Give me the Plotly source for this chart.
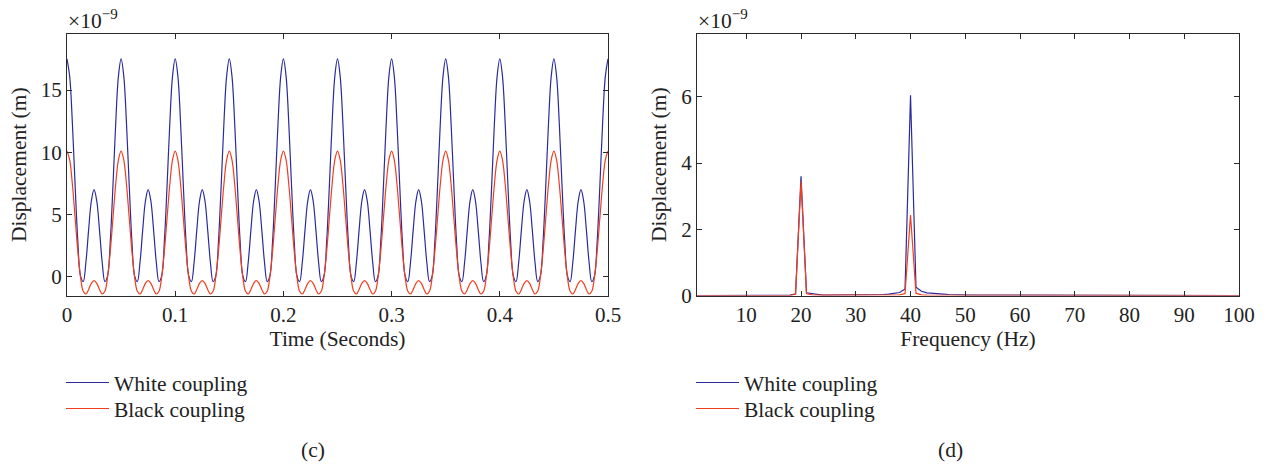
import numpy as np
import plotly.graph_objects as go

# ---- panel (c): time response, values in units of 1e-9 m ----
time_s = np.linspace(0.0, 0.5, 201)

white_disp_time = [
    17.50, 16.08, 12.29, 7.36, 2.86, 0.07, -0.39, 1.19, 3.79, 6.09, 7.00, 6.09, 3.79, 1.19, -0.39, 0.07, 2.86, 7.36, 12.29, 16.08,
    17.50, 16.08, 12.29, 7.36, 2.86, 0.07, -0.39, 1.19, 3.79, 6.09, 7.00, 6.09, 3.79, 1.19, -0.39, 0.07, 2.86, 7.36, 12.29, 16.08,
    17.50, 16.08, 12.29, 7.36, 2.86, 0.07, -0.39, 1.19, 3.79, 6.09, 7.00, 6.09, 3.79, 1.19, -0.39, 0.07, 2.86, 7.36, 12.29, 16.08,
    17.50, 16.08, 12.29, 7.36, 2.86, 0.07, -0.39, 1.19, 3.79, 6.09, 7.00, 6.09, 3.79, 1.19, -0.39, 0.07, 2.86, 7.36, 12.29, 16.08,
    17.50, 16.08, 12.29, 7.36, 2.86, 0.07, -0.39, 1.19, 3.79, 6.09, 7.00, 6.09, 3.79, 1.19, -0.39, 0.07, 2.86, 7.36, 12.29, 16.08,
    17.50, 16.08, 12.29, 7.36, 2.86, 0.07, -0.39, 1.19, 3.79, 6.09, 7.00, 6.09, 3.79, 1.19, -0.39, 0.07, 2.86, 7.36, 12.29, 16.08,
    17.50, 16.08, 12.29, 7.36, 2.86, 0.07, -0.39, 1.19, 3.79, 6.09, 7.00, 6.09, 3.79, 1.19, -0.39, 0.07, 2.86, 7.36, 12.29, 16.08,
    17.50, 16.08, 12.29, 7.36, 2.86, 0.07, -0.39, 1.19, 3.79, 6.09, 7.00, 6.09, 3.79, 1.19, -0.39, 0.07, 2.86, 7.36, 12.29, 16.08,
    17.50, 16.08, 12.29, 7.36, 2.86, 0.07, -0.39, 1.19, 3.79, 6.09, 7.00, 6.09, 3.79, 1.19, -0.39, 0.07, 2.86, 7.36, 12.29, 16.08,
    17.50, 16.08, 12.29, 7.36, 2.86, 0.07, -0.39, 1.19, 3.79, 6.09, 7.00, 6.09, 3.79, 1.19, -0.39, 0.07, 2.86, 7.36, 12.29, 16.08,
    17.50,
]

black_disp_time = [
    10.10, 9.38, 7.41, 4.74, 2.06, -0.02, -1.16, -1.38, -1.01, -0.52, -0.30, -0.52, -1.01, -1.38, -1.16, -0.02, 2.06, 4.74, 7.41, 9.38,
    10.10, 9.38, 7.41, 4.74, 2.06, -0.02, -1.16, -1.38, -1.01, -0.52, -0.30, -0.52, -1.01, -1.38, -1.16, -0.02, 2.06, 4.74, 7.41, 9.38,
    10.10, 9.38, 7.41, 4.74, 2.06, -0.02, -1.16, -1.38, -1.01, -0.52, -0.30, -0.52, -1.01, -1.38, -1.16, -0.02, 2.06, 4.74, 7.41, 9.38,
    10.10, 9.38, 7.41, 4.74, 2.06, -0.02, -1.16, -1.38, -1.01, -0.52, -0.30, -0.52, -1.01, -1.38, -1.16, -0.02, 2.06, 4.74, 7.41, 9.38,
    10.10, 9.38, 7.41, 4.74, 2.06, -0.02, -1.16, -1.38, -1.01, -0.52, -0.30, -0.52, -1.01, -1.38, -1.16, -0.02, 2.06, 4.74, 7.41, 9.38,
    10.10, 9.38, 7.41, 4.74, 2.06, -0.02, -1.16, -1.38, -1.01, -0.52, -0.30, -0.52, -1.01, -1.38, -1.16, -0.02, 2.06, 4.74, 7.41, 9.38,
    10.10, 9.38, 7.41, 4.74, 2.06, -0.02, -1.16, -1.38, -1.01, -0.52, -0.30, -0.52, -1.01, -1.38, -1.16, -0.02, 2.06, 4.74, 7.41, 9.38,
    10.10, 9.38, 7.41, 4.74, 2.06, -0.02, -1.16, -1.38, -1.01, -0.52, -0.30, -0.52, -1.01, -1.38, -1.16, -0.02, 2.06, 4.74, 7.41, 9.38,
    10.10, 9.38, 7.41, 4.74, 2.06, -0.02, -1.16, -1.38, -1.01, -0.52, -0.30, -0.52, -1.01, -1.38, -1.16, -0.02, 2.06, 4.74, 7.41, 9.38,
    10.10, 9.38, 7.41, 4.74, 2.06, -0.02, -1.16, -1.38, -1.01, -0.52, -0.30, -0.52, -1.01, -1.38, -1.16, -0.02, 2.06, 4.74, 7.41, 9.38,
    10.10,
]

# ---- panel (d): spectrum, values in units of 1e-9 m ----
freq_hz = list(range(1, 101))

white_disp_freq = [
    0, 0, 0, 0, 0, 0, 0, 0, 0, 0,                                  # 1-10
    0, 0, 0, 0, 0, 0, 0, 0.01, 0.05, 3.60,                         # 11-20
    0.08, 0.05, 0.03, 0.01, 0.01, 0.01, 0.01, 0.01, 0.01, 0.01,    # 21-30
    0.01, 0.01, 0.02, 0.02, 0.03, 0.04, 0.06, 0.09, 0.20, 6.05,    # 31-40
    0.25, 0.13, 0.08, 0.06, 0.05, 0.04, 0.03, 0.02, 0.02, 0.01,    # 41-50
    0.01, 0.01, 0.01, 0.01, 0.01, 0.01, 0.01, 0.01, 0.01, 0.01,    # 51-60
    0, 0, 0, 0, 0, 0, 0, 0, 0, 0,                                  # 61-70
    0, 0, 0, 0, 0, 0, 0, 0, 0, 0,                                  # 71-80
    0, 0, 0, 0, 0, 0, 0, 0, 0, 0,                                  # 81-90
    0, 0, 0, 0, 0, 0, 0, 0, 0, 0,                                  # 91-100
]

black_disp_freq = [
    0, 0, 0, 0, 0, 0, 0, 0, 0, 0,                                  # 1-10
    0, 0, 0, 0, 0, 0, 0, 0, 0.04, 3.45,                            # 11-20
    0.06, 0.02, 0.01, 0.01, 0.01, 0.01, 0.01, 0.01, 0.01, 0.01,    # 21-30
    0.01, 0.01, 0.01, 0.01, 0.01, 0.01, 0.01, 0.02, 0.06, 2.43,    # 31-40
    0.07, 0.02, 0.01, 0.01, 0.01, 0.01, 0.01, 0.01, 0.01, 0.01,    # 41-50
    0, 0, 0, 0, 0, 0, 0, 0, 0, 0,                                  # 51-60
    0, 0, 0, 0, 0, 0, 0, 0, 0, 0,                                  # 61-70
    0, 0, 0, 0, 0, 0, 0, 0, 0, 0,                                  # 71-80
    0, 0, 0, 0, 0, 0, 0, 0, 0, 0,                                  # 81-90
    0, 0, 0, 0, 0, 0, 0, 0, 0, 0,                                  # 91-100
]

time_ticks = [0, 0.1, 0.2, 0.3, 0.4, 0.5]
time_tick_text = ["0", "0.1", "0.2", "0.3", "0.4", "0.5"]
disp_time_ticks = [0, 5, 10, 15]
freq_ticks = [10, 20, 30, 40, 50, 60, 70, 80, 90, 100]
disp_freq_ticks = [0, 2, 4, 6]

series_names = ["White coupling", "Black coupling"]

# ---- styling ----
W, H = 1267, 466
BLUE = "#2a2a9e"
RED = "#f23c1e"
AX = "#2a2a2a"
TXT = "#222222"
FONT = "Liberation Serif"
TICK_SIZE = 21
TITLE_SIZE = 21.5


def px_x(p):
    return p / W


def px_y(p):
    return 1 - p / H


fig = go.Figure()

fig.add_trace(go.Scatter(x=time_s, y=white_disp_time, mode="lines", name=series_names[0],
                         line=dict(color=BLUE, width=1.2, shape="spline", smoothing=1.0),
                         xaxis="x", yaxis="y", legend="legend"))
fig.add_trace(go.Scatter(x=time_s, y=black_disp_time, mode="lines", name=series_names[1],
                         line=dict(color=RED, width=1.2, shape="spline", smoothing=1.0),
                         xaxis="x", yaxis="y", legend="legend2"))
fig.add_trace(go.Scatter(x=freq_hz, y=white_disp_freq, mode="lines", name=series_names[0],
                         line=dict(color=BLUE, width=1.2),
                         xaxis="x2", yaxis="y2", legend="legend3"))
fig.add_trace(go.Scatter(x=freq_hz, y=black_disp_freq, mode="lines", name=series_names[1],
                         line=dict(color=RED, width=1.2),
                         xaxis="x2", yaxis="y2", legend="legend4"))

axis_common = dict(showline=True, linecolor=AX, linewidth=1, mirror="ticks",
                   ticks="inside", ticklen=5, tickcolor=AX, tickwidth=1,
                   showgrid=False, zeroline=False, automargin=False,
                   tickfont=dict(family=FONT, size=TICK_SIZE, color=TXT))

title_font = dict(family=FONT, size=TITLE_SIZE, color=TXT)
ydom = [px_y(295.5), px_y(34)]


def legend_at(xpx, ypx):
    return dict(x=px_x(xpx), y=px_y(ypx), xanchor="left", yanchor="top",
                bgcolor="rgba(0,0,0,0)", borderwidth=0, itemwidth=43,
                font=title_font, tracegroupgap=0)


fig.update_layout(
    width=W, height=H,
    margin=dict(l=0, r=0, t=0, b=0),
    paper_bgcolor="white", plot_bgcolor="white",
    font=dict(family=FONT, size=TITLE_SIZE, color=TXT),
    xaxis=dict(domain=[px_x(67), px_x(608)], range=[0, 0.5], tickvals=time_ticks,
               ticktext=time_tick_text, anchor="y",
               title=dict(text="Time (Seconds)", font=title_font, standoff=5),
               **axis_common),
    yaxis=dict(domain=ydom, range=[-1.5, 19.5], tickvals=disp_time_ticks, anchor="x",
               title=dict(text="Displacement (m)", font=title_font, standoff=8),
               **axis_common),
    xaxis2=dict(domain=[px_x(697), px_x(1239)], range=[1, 100], tickvals=freq_ticks, anchor="y2",
                title=dict(text="Frequency (Hz)", font=title_font, standoff=5),
                **axis_common),
    yaxis2=dict(domain=ydom, range=[0, 7.9], tickvals=disp_freq_ticks, anchor="x2",
                title=dict(text="Displacement (m)", font=title_font, standoff=8),
                **axis_common),
    legend=legend_at(61, 362),
    legend2=legend_at(61, 388),
    legend3=legend_at(691, 362),
    legend4=legend_at(691, 388),
    showlegend=True,
    annotations=[
        dict(text="×10<sup>−9</sup>", x=px_x(66), y=px_y(19), xref="paper", yref="paper",
             xanchor="left", yanchor="middle", showarrow=False, font=title_font),
        dict(text="×10<sup>−9</sup>", x=px_x(696), y=px_y(19), xref="paper", yref="paper",
             xanchor="left", yanchor="middle", showarrow=False, font=title_font),
        dict(text="(c)", x=px_x(313), y=px_y(450), xref="paper", yref="paper",
             xanchor="center", yanchor="middle", showarrow=False, font=title_font),
        dict(text="(d)", x=px_x(950), y=px_y(450), xref="paper", yref="paper",
             xanchor="center", yanchor="middle", showarrow=False, font=title_font),
    ],
)

fig.write_html("out.html")
